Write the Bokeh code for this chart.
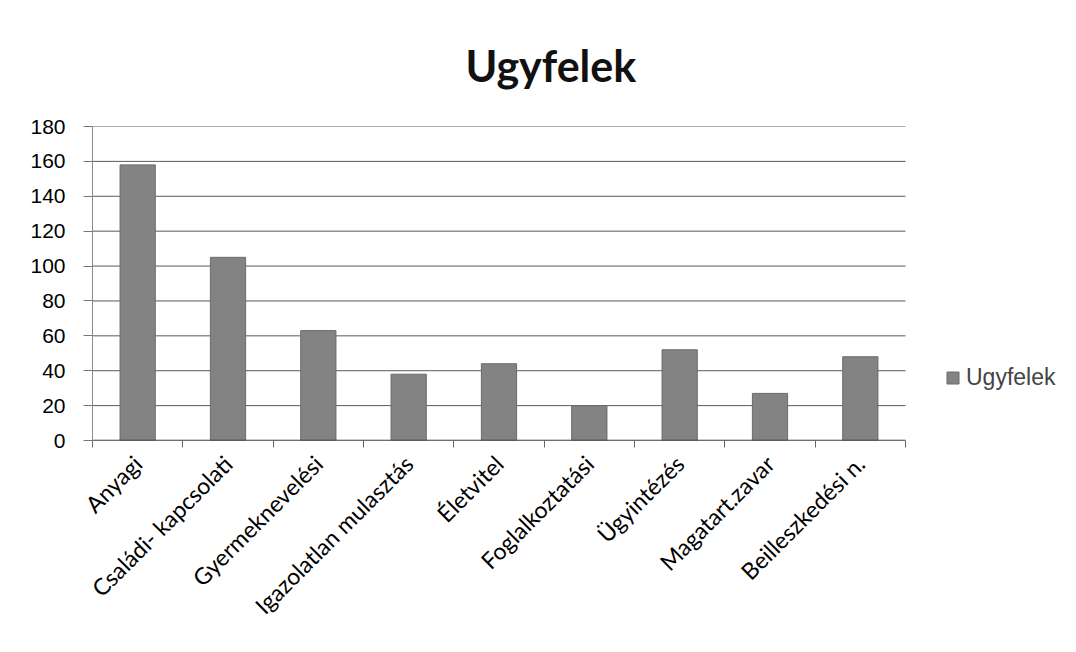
from bokeh.plotting import figure
from bokeh.models import LinearAxis, FixedTicker, Legend, LegendItem, ColumnDataSource, Range1d
from bokeh.embed import file_html
from bokeh.resources import INLINE
import math

categories = ["Anyagi", "Családi- kapcsolati", "Gyermeknevelési", "Igazolatlan mulasztás",
              "Életvitel", "Foglalkoztatási", "Ügyintézés", "Magatart.zavar", "Beilleszkedési n."]
values = [158, 105, 63, 38, 44, 20, 52, 27, 48]
series_name = "Ugyfelek"
y_ticks = [0, 20, 40, 60, 80, 100, 120, 140, 160, 180]

n = len(categories)
centers = [i + 0.5 for i in range(n)]
src = ColumnDataSource(dict(x=centers, top=values, cat=categories))

W, H = 1068, 636
left, right, top, bottom = 92, 0, 126, 196
plot_right = 905  # pixel where the category area ends; legend sits beyond it
x_end = n * (W - right - left) / (plot_right - left)

p = figure(width=W, height=H, output_backend="svg", toolbar_location=None,
           x_range=Range1d(0, x_end), y_range=Range1d(0, 180),
           min_border_left=left, min_border_right=right, min_border_top=top, min_border_bottom=bottom,
           title="Ugyfelek", sizing_mode="fixed")
p.background_fill_color = "white"
p.border_fill_color = "white"
p.outline_line_color = None

p.title.text_font = "Lato"
p.title.text_font_style = "bold"
p.title.text_font_size = "43px"
p.title.text_color = "#111111"
p.title.align = "left"
p.title.offset = 373
p.title.standoff = 72

# gridlines limited to the category area
p.xgrid.grid_line_color = None
p.ygrid.grid_line_color = None
p.segment(x0=[0] * len(y_ticks), x1=[n] * len(y_ticks), y0=y_ticks, y1=y_ticks,
          line_color="#5a5a5a", line_width=1)

r = p.vbar(x="x", top="top", width=0.39, source=src, fill_color="#838383", line_color="#6a6a6a", line_width=1)

# x axis line (category area only)
p.segment(x0=[0], x1=[n], y0=[0], y1=[0], line_color="#333333", line_width=1.3)

# y axis
p.yaxis.ticker = FixedTicker(ticks=y_ticks)
p.yaxis.major_label_text_font = "Liberation Sans"
p.yaxis.major_label_text_font_size = "21px"
p.yaxis.major_label_text_color = "black"
p.yaxis.axis_line_color = "#8a8a8a"
p.yaxis.major_tick_line_color = "#777777"
p.yaxis.major_tick_out = 9
p.yaxis.major_tick_in = 0
p.yaxis.minor_tick_line_color = None
p.yaxis.major_label_standoff = 18

# x axis: boundary ticks, no labels, no line
xa = p.xaxis[0]
xa.ticker = FixedTicker(ticks=list(range(n + 1)))
xa.major_label_overrides = {i: "" for i in range(n + 1)}
xa.axis_line_color = None
xa.major_tick_line_color = "#666666"
xa.major_tick_out = 7
xa.major_tick_in = 0
xa.minor_tick_line_color = None

# x axis: category labels
lab = LinearAxis(ticker=FixedTicker(ticks=centers),
                 major_label_overrides={c: t for c, t in zip(centers, categories)})
lab.axis_line_color = None
lab.major_tick_line_color = None
lab.minor_tick_line_color = None
lab.major_label_orientation = math.pi / 4
lab.major_label_text_font = "Lato"
lab.major_label_text_font_size = "23px"
lab.major_label_text_color = "black"
lab.major_label_standoff = 6
p.add_layout(lab, "below")

legend = Legend(items=[LegendItem(label=series_name, renderers=[r])],
                location=(853, 49), border_line_color=None, background_fill_alpha=0,
                label_text_font="Liberation Sans", label_text_font_size="23px",
                glyph_width=15, glyph_height=15, label_standoff=6, spacing=0, padding=0, margin=0)
p.add_layout(legend, "center")

open("out.html", "w").write(file_html(p, INLINE))
